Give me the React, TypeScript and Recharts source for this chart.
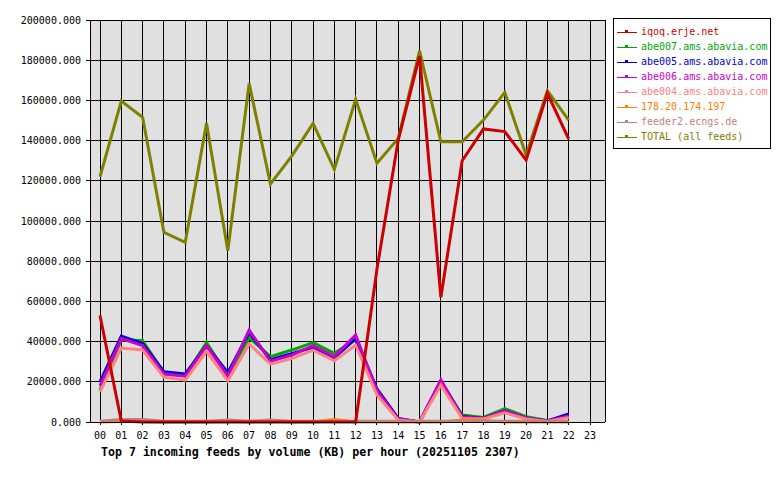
import { LineChart, Line, XAxis, YAxis, CartesianGrid, Legend } from 'recharts'

const hours = ['00', '01', '02', '03', '04', '05', '06', '07', '08', '09', '10', '11', '12', '13', '14', '15', '16', '17', '18', '19', '20', '21', '22', '23']

const iqoq = [53000, 500, 0, 0, 0, 0, 0, 0, 0, 0, 0, 0, 0, 76000, 140300, 182000, 62000, 130000, 145800, 144500, 130300, 163500, 140800]
const abe007 = [16000, 41000, 40500, 24500, 23000, 39500, 23000, 42000, 32500, 35800, 39500, 34200, 41000, 15500, 1500, 0, 20000, 3500, 2300, 6600, 2600, 800, 2500]
const abe005 = [20000, 42700, 39000, 25000, 23900, 38000, 24500, 44500, 31000, 34000, 37200, 32000, 41500, 16500, 1800, 0, 20500, 2800, 1800, 5600, 2000, 500, 4000]
const abe006 = [18000, 41500, 38000, 23900, 22800, 38000, 22800, 45800, 30200, 33300, 38000, 32500, 43300, 15500, 1500, 0, 20900, 2500, 1800, 5600, 2000, 500, 3000]
const abe004 = [15000, 36800, 35800, 22300, 20800, 35200, 20500, 38800, 28800, 31500, 35800, 30500, 38300, 13400, 1000, 0, 18300, 1800, 1500, 4600, 1500, 300, 2300]
const ip178 = [0, 300, 300, 0, 0, 0, 300, 0, 300, 0, 0, 1200, 0, 0, 0, 0, 0, 1000, 800, 0, 0, 0, 0]
const feeder2 = [400, 1200, 1200, 400, 400, 400, 1000, 400, 1000, 400, 400, 400, 400, 400, 400, 400, 400, 400, 400, 400, 400, 400, 400]
const total = [122000, 159700, 151600, 94400, 89400, 148600, 85200, 168500, 118400, 132300, 148600, 125700, 160500, 128700, 141100, 184700, 139400, 139400, 150200, 164000, 132800, 164800, 150200]

const yTicks = [0, 20000, 40000, 60000, 80000, 100000, 120000, 140000, 160000, 180000, 200000]

const series = [
  { key: 'iqoq', name: 'iqoq.erje.net', color: '#cc0000', values: iqoq },
  { key: 'abe007', name: 'abe007.ams.abavia.com', color: '#00a800', values: abe007 },
  { key: 'abe005', name: 'abe005.ams.abavia.com', color: '#0000d0', values: abe005 },
  { key: 'abe006', name: 'abe006.ams.abavia.com', color: '#cc00cc', values: abe006 },
  { key: 'abe004', name: 'abe004.ams.abavia.com', color: '#ff8080', values: abe004 },
  { key: 'ip178', name: '178.20.174.197', color: '#ff8000', values: ip178 },
  { key: 'feeder2', name: 'feeder2.ecngs.de', color: '#c08080', values: feeder2 },
  { key: 'total', name: 'TOTAL (all feeds)', color: '#808000', values: total },
]

// drawing order (last one on top)
const drawOrder = ['total', 'abe007', 'abe005', 'abe006', 'abe004', 'ip178', 'feeder2', 'iqoq']

const data = hours.map((hour, i) => {
  const row: Record<string, string | number | null> = { hour }
  series.forEach(s => {
    row[s.key] = s.values[i] ?? null
  })
  return row
})

const font = '"DejaVu Sans Mono", monospace'

const renderLegend = () => (
  <div
    style={{
      border: '1px solid #000',
      background: '#fff',
      width: 156,
      padding: '5px 0 4px 0',
      fontFamily: font,
      fontSize: 10,
    }}
  >
    {series.map(s => (
      <div key={s.key} style={{ display: 'flex', alignItems: 'center', height: 15 }}>
        <svg width={26} height={15} shapeRendering="crispEdges">
          <line x1={3} y1={8} x2={23} y2={8} stroke={s.color} strokeWidth={1} />
          <rect x={11} y={6} width={3} height={2} fill={s.color} />
        </svg>
        <span style={{ color: s.color, marginLeft: 1 }}>{s.name}</span>
      </div>
    ))}
  </div>
)

export default function App() {
  const lines = drawOrder.map(k => series.find(s => s.key === k)!)
  return (
    <div style={{ position: 'absolute', left: 0, top: 0, width: 780, height: 480, background: '#fff' }}>
      <LineChart width={780} height={480} data={data} margin={{ top: 20, right: 175, bottom: 28, left: 0 }}>
        <CartesianGrid fill="#e0e0e0" stroke="#000" strokeOpacity={1} shapeRendering="crispEdges" />
        <XAxis
          dataKey="hour"
          height={30}
          interval={0}
          padding={{ left: 10, right: 15 }}
          tickSize={3}
          tickMargin={7}
          axisLine={{ stroke: '#000', shapeRendering: 'crispEdges' }}
          tickLine={{ stroke: '#000', shapeRendering: 'crispEdges' }}
          tick={{ fontSize: 10, fill: '#000', fontFamily: font }}
        />
        <YAxis
          width={90}
          domain={[0, 200000]}
          ticks={yTicks}
          interval={0}
          tickSize={4}
          tickMargin={5}
          tickFormatter={(v: number) => v.toFixed(3)}
          axisLine={{ stroke: '#000', shapeRendering: 'crispEdges' }}
          tickLine={{ stroke: '#000', shapeRendering: 'crispEdges' }}
          tick={{ fontSize: 10, fill: '#000', fontFamily: font }}
        />
        <YAxis
          yAxisId="r"
          orientation="right"
          width={0}
          domain={[0, 200000]}
          tick={false}
          tickLine={false}
          axisLine={{ stroke: '#000', shapeRendering: 'crispEdges' }}
        />
        <Legend
          layout="horizontal"
          verticalAlign="middle"
          align="center"
          content={renderLegend}
          wrapperStyle={{ left: 613, top: 18, width: 158 }}
        />
        {lines.map(s => (
          <Line
            key={s.key}
            type="linear"
            dataKey={s.key}
            name={s.name}
            stroke={s.color}
            strokeWidth={3}
            dot={false}
            activeDot={false}
            isAnimationActive={false}
          />
        ))}
      </LineChart>
      <div
        style={{
          position: 'absolute',
          left: 101,
          top: 445,
          fontFamily: font,
          fontSize: 11.6,
          fontWeight: 'bold',
          color: '#000',
          whiteSpace: 'nowrap',
        }}
      >
        Top 7 incoming feeds by volume (KB) per hour (20251105 2307)
      </div>
    </div>
  )
}
